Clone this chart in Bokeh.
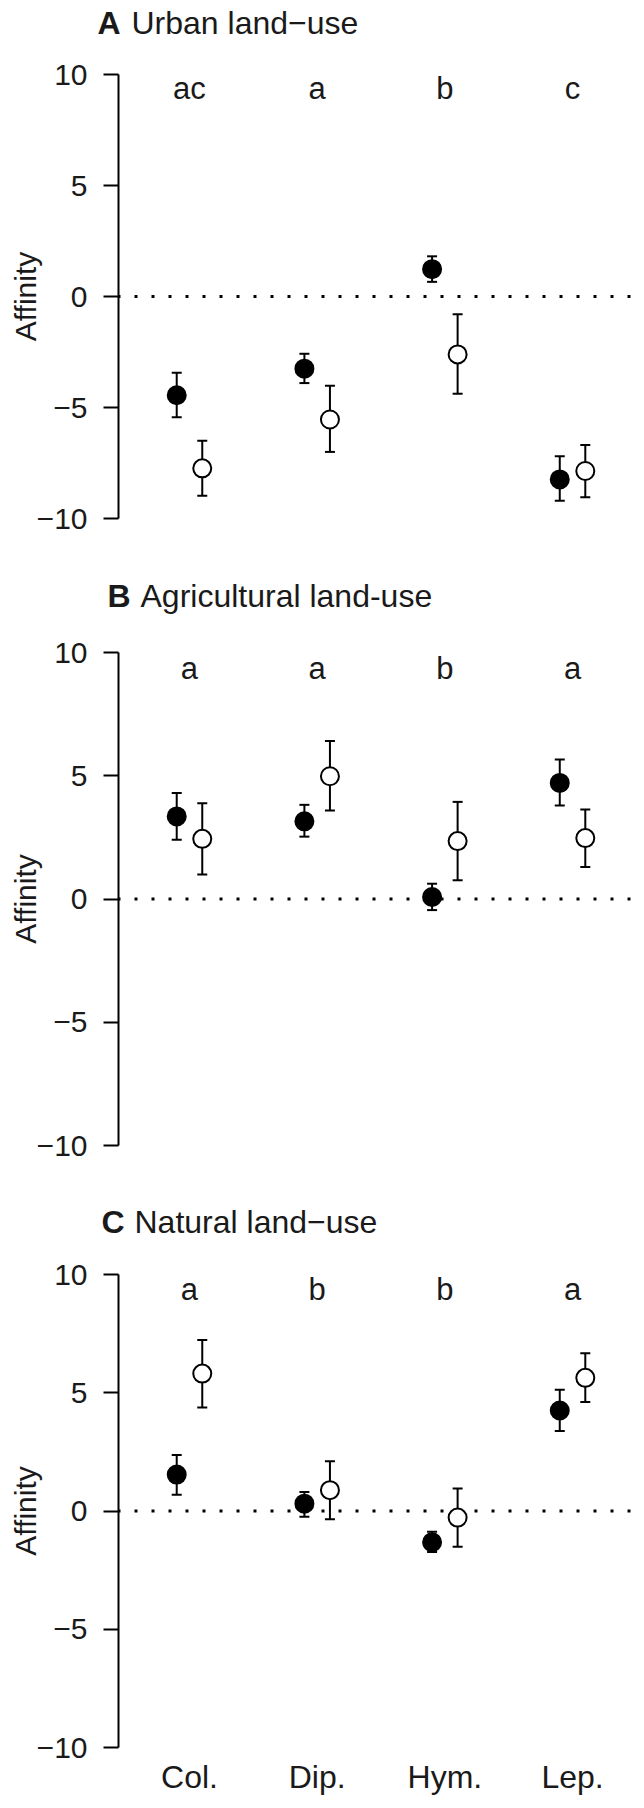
import math
from bokeh.plotting import figure
from bokeh.models import (ColumnDataSource, Whisker, TeeHead, Span,
                          FixedTicker, Range1d)
from bokeh.layouts import column
from bokeh.embed import file_html
from bokeh.resources import INLINE
from bokeh.core.properties import value

# ---------------- data ----------------
categories = ["Col.", "Dip.", "Hym.", "Lep."]
y_ticks = [-10, -5, 0, 5, 10]
y_tick_labels = ["\u221210", "\u22125", "0", "5", "10"]
y_label = "Affinity"

urban_title = ("A", "Urban land\u2212use")
urban_letters = ["ac", "a", "b", "c"]
urban_filled = [-4.45, -3.25, 1.23, -8.24]
urban_filled_lo = [-5.44, -3.90, 0.66, -9.20]
urban_filled_hi = [-3.44, -2.58, 1.81, -7.20]
urban_open = [-7.74, -5.54, -2.61, -7.86]
urban_open_lo = [-8.98, -7.00, -4.38, -9.04]
urban_open_hi = [-6.50, -4.02, -0.80, -6.69]

agri_title = ("B", "Agricultural land-use")
agri_letters = ["a", "a", "b", "a"]
agri_filled = [3.35, 3.15, 0.08, 4.71]
agri_filled_lo = [2.40, 2.53, -0.45, 3.79]
agri_filled_hi = [4.30, 3.82, 0.62, 5.66]
agri_open = [2.44, 4.98, 2.35, 2.47]
agri_open_lo = [0.99, 3.59, 0.76, 1.30]
agri_open_hi = [3.88, 6.41, 3.94, 3.63]

nat_title = ("C", "Natural land\u2212use")
nat_letters = ["a", "b", "b", "a"]
nat_filled = [1.54, 0.31, -1.32, 4.25]
nat_filled_lo = [0.69, -0.24, -1.73, 3.38]
nat_filled_hi = [2.37, 0.80, -0.88, 5.13]
nat_open = [5.81, 0.88, -0.28, 5.63]
nat_open_lo = [4.38, -0.35, -1.51, 4.61]
nat_open_hi = [7.23, 2.10, 0.95, 6.67]

# ---------------- layout / style ----------------
FONT = "Liberation Sans"
FS = "30px"
FS_TITLE = "32px"
FS_CAT = "32px"
FS_LET = "31px"
TXT = "#1a1a1a"
W = 640
FRAME_L = 118
FRAME_R = 636
X_START, X_END = 0.444, 4.501
DODGE = 0.1
LETTER_Y = 9.35


def title_fig(height, tag, rest, tag_x, rest_x, y_from_top):
    t = figure(width=W, height=height, output_backend="svg",
               toolbar_location=None, x_axis_location=None,
               y_axis_location=None, x_range=Range1d(0, W),
               y_range=Range1d(0, height), min_border=0,
               frame_align=False)
    t.outline_line_color = None
    t.xgrid.visible = False
    t.ygrid.visible = False
    yy = height - y_from_top
    t.text(x=[tag_x], y=[yy], text=[tag], text_font=value(FONT),
           text_font_size=value(FS_TITLE), text_font_style="bold",
           text_align="left", text_baseline="middle", text_color=TXT)
    t.text(x=[rest_x], y=[yy], text=[rest], text_font=value(FONT),
           text_font_size=value(FS_TITLE), text_align="left",
           text_baseline="middle", text_color=TXT)
    return t


def panel(height, top, frame_h, letters, f, f_lo, f_hi, o, o_lo, o_hi, show_x):
    bottom = height - top - frame_h
    p = figure(width=W, height=height, output_backend="svg",
               toolbar_location=None,
               x_axis_location="below" if show_x else None,
               x_range=Range1d(X_START, X_END), y_range=Range1d(-10, 10),
               min_border_left=FRAME_L, min_border_right=W - FRAME_R,
               min_border_top=top, min_border_bottom=bottom)
    p.outline_line_color = None
    p.xgrid.visible = False
    p.ygrid.visible = False

    ya = p.yaxis[0]
    ya.ticker = FixedTicker(ticks=y_ticks)
    ya.major_label_overrides = {t: l for t, l in zip(y_ticks, y_tick_labels)}
    ya.major_tick_out = 15
    ya.major_tick_in = 0
    ya.minor_tick_out = 0
    ya.minor_tick_in = 0
    ya.axis_line_width = 2
    ya.axis_line_color = "black"
    ya.major_tick_line_width = 2
    ya.major_tick_line_color = "black"
    ya.major_label_standoff = 16
    ya.major_label_text_font = FONT
    ya.major_label_text_font_size = FS
    ya.major_label_text_color = TXT
    ya.axis_label = y_label
    ya.axis_label_text_font = FONT
    ya.axis_label_text_font_size = FS
    ya.axis_label_text_font_style = "normal"
    ya.axis_label_text_color = TXT
    ya.axis_label_standoff = -8

    if show_x:
        xa = p.xaxis[0]
        xa.ticker = FixedTicker(ticks=[i + 1 for i in range(len(categories))])
        xa.major_label_overrides = {i + 1: c for i, c in enumerate(categories)}
        xa.axis_line_color = None
        xa.major_tick_line_color = None
        xa.minor_tick_line_color = None
        xa.major_tick_out = 0
        xa.major_tick_in = 0
        xa.major_label_standoff = 11
        xa.major_label_text_font = FONT
        xa.major_label_text_font_size = FS_CAT
        xa.major_label_text_color = TXT

    zero = Span(location=0, dimension="width", line_color="black",
                line_width=3, line_dash="3 14", line_dash_offset=1,
                level="underlay")
    p.add_layout(zero)

    xs = [i + 1 for i in range(len(categories))]
    xf = [x - DODGE for x in xs]
    xo = [x + DODGE for x in xs]

    for xx, lo, hi in ((xf, f_lo, f_hi), (xo, o_lo, o_hi)):
        src = ColumnDataSource(dict(x=xx, lo=lo, hi=hi))
        wh = Whisker(base="x", lower="lo", upper="hi", source=src,
                     line_width=2, line_color="black",
                     upper_head=TeeHead(size=10, line_width=2, line_color="black"),
                     lower_head=TeeHead(size=10, line_width=2, line_color="black"))
        p.add_layout(wh)

    p.scatter(xf, f, marker="circle", size=18, fill_color="black",
              line_color="black", line_width=2)
    p.scatter(xo, o, marker="circle", size=18, fill_color="white",
              line_color="black", line_width=2)

    p.text(x=xs, y=[LETTER_Y] * len(xs), text=letters,
           text_font=value(FONT), text_font_size=value(FS_LET),
           text_align="center", text_baseline="middle", text_color=TXT)
    return p


tA = title_fig(50, urban_title[0], urban_title[1], 97, 131, 22)
pA = panel(510, 24, 444, urban_letters, urban_filled, urban_filled_lo,
           urban_filled_hi, urban_open, urban_open_lo, urban_open_hi, False)
tB = title_fig(65, agri_title[0], agri_title[1], 107, 140, 35)
pB = panel(555, 27, 493, agri_letters, agri_filled, agri_filled_lo,
           agri_filled_hi, agri_open, agri_open_lo, agri_open_hi, False)
tC = title_fig(70, nat_title[0], nat_title[1], 101, 134, 41)
pC = panel(552, 24, 473, nat_letters, nat_filled, nat_filled_lo,
           nat_filled_hi, nat_open, nat_open_lo, nat_open_hi, True)

layout = column(tA, pA, tB, pB, tC, pC)
open("out.html", "w").write(file_html(layout, INLINE))
